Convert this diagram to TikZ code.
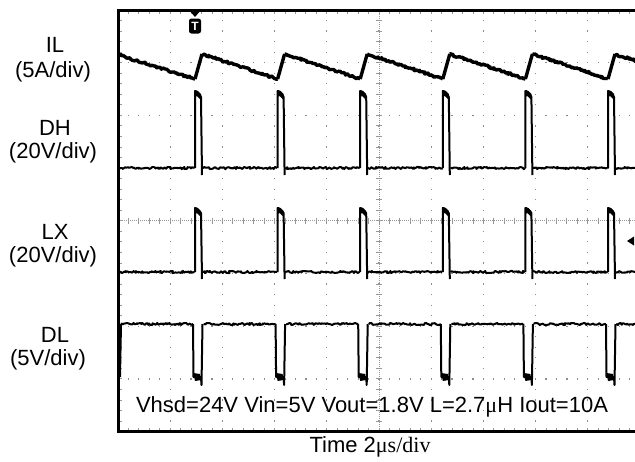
\documentclass[tikz,border=0pt]{standalone}
\usepackage{fontspec}
\setmainfont{Liberation Sans}
\newfontfamily\timesfont{Liberation Serif}
\usetikzlibrary{decorations.pathmorphing}
\begin{document}
\begin{tikzpicture}[x=1pt,y=-1pt]
  \tikzstyle{chlabel}=[font=\fontsize{22}{26}\selectfont,inner sep=0pt]
  \tikzstyle{trace}=[draw=black,line width=2pt,line join=round]
  \tikzstyle{noisy}=[decorate,decoration={random steps,segment length=1.3pt,amplitude=1.1pt}]
  \tikzstyle{gridline}=[fill=black!45]
  \tikzstyle{axis}=[draw=black!40,line width=0.9pt]
  \useasboundingbox (0,0) rectangle (635,461);
  % graticule
  \foreach \i in {1,...,9}
    \foreach \k in {1,...,39}
      \path[gridline] (118+\i*52.2-0.6,10+\k*10.54-0.6) rectangle ++(1.2,1.2);
  \foreach \j in {1,2,3,5,6,7}
    \foreach \k in {1,...,49}
      \path[gridline] (118+\k*10.44-0.6,10+\j*52.7-0.6) rectangle ++(1.2,1.2);
  % center axes with ticks
  \draw[axis,dash pattern=on 1.2pt off 0.8pt] (118,220.8) -- (635,220.8);
  \draw[axis,dash pattern=on 1.2pt off 0.8pt] (379,10) -- (379,431.6);
  \foreach \k in {1,...,49}
    \draw[axis] (118+\k*10.44,217.8) -- ++(0,6);
  \foreach \k in {1,...,39}
    \draw[axis] (376,10+\k*10.54) -- ++(6,0);
  % border ticks
  \foreach \k in {1,...,49} {
    \draw[axis] (118+\k*10.44,10) -- ++(0,4);
    \draw[axis] (118+\k*10.44,431.6) -- ++(0,-4);
  }
  \foreach \k in {1,...,39}
    \draw[axis] (118,10+\k*10.54) -- ++(4,0);
  % frame
  \draw[line width=3pt] (640,10) -- (118,10) -- (118,431.6) -- (640,431.6);
  % traces
  \begin{scope}
    \clip (119,11) rectangle (635,430);
    % IL
    \draw[trace,line width=3.4pt,noisy] (119,55) -- (195,79);
    \foreach \t in {195,277.6,360.2,442.8,525.4,608} {
      \draw[trace,line width=3.4pt] (\t,79) -- (\t+7,54);
      \draw[trace,line width=3.4pt,noisy] (\t+7,54) -- (\t+82.6,79);
    }
    % DH and LX
    \foreach \t in {195,277.6,360.2,442.8,525.4,608} {
      \draw[trace,noisy] (\t-75,168) -- (\t-0.5,168);
      \draw[trace] (\t,168) -- (\t,91) -- (\t+2,92) -- (\t+5,95) -- (\t+6,97) -- (\t+7,175);
      \fill (\t,90) -- (\t+3,91) -- (\t+6,94) -- (\t+6,100) -- (\t+2,96) -- (\t,97) -- cycle;
      \draw[trace,noisy] (\t-75,272) -- (\t-0.5,272);
      \draw[trace] (\t,272) -- (\t,208) -- (\t+2,209) -- (\t+5,212) -- (\t+6,213) -- (\t+7,279);
      \fill (\t,207) -- (\t+3,208) -- (\t+6,211) -- (\t+6,217) -- (\t+2,213) -- (\t,214) -- cycle;
    }
    \draw[trace,noisy] (615,168) -- (635,168);
    \draw[trace,noisy] (615,272) -- (635,272);
    % DL
    \draw[trace] (120,377) -- (121,324);
    \foreach \t in {195,277.6,360.2,442.8,525.4,608} {
      \draw[trace,noisy] (\t-74,324) -- (\t-2,324);
      \draw[trace] (\t-2,324) -- (\t-1.5,377) -- (\t+6,377) -- (\t+6.5,385) -- (\t+7.5,324);
      \fill (\t-1.5,373) -- (\t+5,374) -- (\t+6,380) -- (\t,381) -- cycle;
    }
    \draw[trace,noisy] (616,324) -- (635,324);
  \end{scope}
  % trigger and level markers
  \fill (189,10) -- (201,10) -- (195,17) -- cycle;
  \node[fill=black,rounded corners=2.5pt,text=white,font=\bfseries\fontsize{12}{12}\selectfont,
        minimum width=12pt,minimum height=15pt,inner sep=0pt] (trig) at (195,26) {T};
  \fill (627,241) -- (634,236.5) -- (634,245.5) -- cycle;
  % channel labels
  \node[chlabel] (il) at (55,45) {IL};
  \node[chlabel] (ilscale) at (53,72) {(5A/div)};
  \node[chlabel] (dh) at (55,128) {DH};
  \node[chlabel] (dhscale) at (53,153) {(20V/div)};
  \node[chlabel] (lx) at (55,232) {LX};
  \node[chlabel] (lxscale) at (53,257) {(20V/div)};
  \node[chlabel] (dl) at (55,335) {DL};
  \node[chlabel] (dlscale) at (48,360) {(5V/div)};
  \node[chlabel] (cond) at (372,407) {Vhsd=24V Vin=5V Vout=1.8V L=2.7{\timesfont μ}H Iout=10A};
  \node[chlabel] (time) at (370,447) {Time 2{\timesfont μs/div}};
\end{tikzpicture}
\end{document}
